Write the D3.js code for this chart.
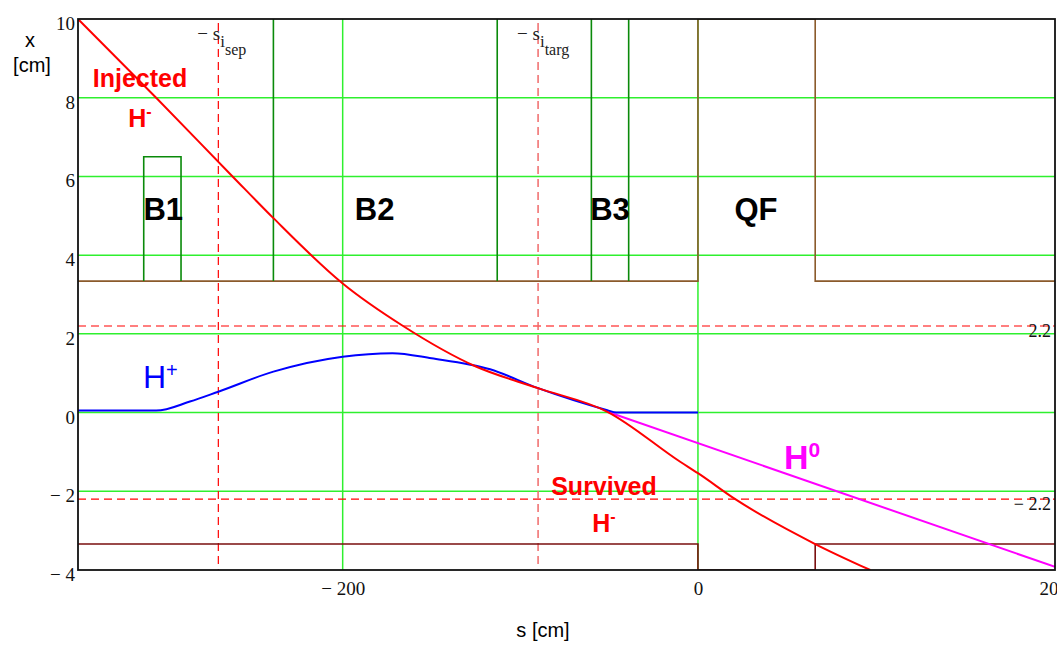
<!DOCTYPE html>
<html>
<head>
<meta charset="utf-8">
<script src="https://cdn.jsdelivr.net/npm/d3@7"></script>
<style>
  body { margin: 0; background: #fff; }
  svg { display: block; }
</style>
</head>
<body>
<script>
// axis ranges and ticks
const sDomain = [-349, 201]
const xDomain = [-4, 10]
const yTickValues = [-4, -2, 0, 2, 4, 6, 8, 10]
const sTickValues = [-200, 0, 200]
const gridX = [-2, 0, 2, 4, 6, 8]
const gridS = [-200, 0]
const limitLines = [2.2, -2.2]
const sSep = -270
const sTarg = -90

// trajectories, [s, x]
const injectedHminus = [[-349, 10], [-305, 8], [-262, 6], [-239, 4.94], [-200, 3.28], [-166, 2.2],
  [-125, 1.17], [-90, 0.62], [-51, 0.02], [-10, -1.25], [0, -1.54], [21, -2.2], [66, -3.34], [97, -4]]
const hPlus = [[-349, 0.05], [-305, 0.05], [-286, 0.28], [-270, 0.53], [-239, 1.04], [-200, 1.42],
  [-172, 1.51], [-150, 1.38], [-117, 1.1], [-90, 0.62], [-51, 0.06], [-46, 0], [0, 0]]
const hZero = [[-51, 0.02], [201, -3.92]]

// apertures and magnets
const upperAperture = [[-349, 3.34], [0, 3.34], [0, 10], [66, 10], [66, 3.34], [201, 3.34]]
const lowerAperture = [[-349, -3.34], [0, -3.34], [0, -4], [66, -4], [66, -3.34], [201, -3.34]]
const b1Box = [[-312, 3.34], [-312, 6.5], [-291, 6.5], [-291, 3.34]]
const magnetEdges = [-239, -113, -60, -39]
const magnetNames = [['B1', -301], ['B2', -182], ['B3', -49.5], ['QF', 32.7]]

const W = 1057, H = 646
const pLeft = 78, pRight = 1055, pTop = 19, pBottom = 570
const serif = '"Liberation Serif", "Times New Roman", serif'
const sans = '"Liberation Sans", Arial, sans-serif'

const x = d3.scaleLinear().domain(sDomain).range([pLeft, pRight])
const y = d3.scaleLinear().domain(xDomain).range([pBottom, pTop])

const svg = d3.select('body').append('svg')
  .attr('width', W)
  .attr('height', H)

svg.append('rect').attr('width', W).attr('height', H).attr('fill', '#fff')

svg.append('clipPath').attr('id', 'plot')
  .append('rect')
  .attr('x', pLeft).attr('y', pTop)
  .attr('width', pRight - pLeft).attr('height', pBottom - pTop)

const plot = svg.append('g').attr('clip-path', 'url(#plot)')

// green grid
plot.selectAll('.gy').data(gridX).enter().append('line')
  .attr('x1', pLeft).attr('x2', pRight)
  .attr('y1', d => y(d)).attr('y2', d => y(d))
  .attr('stroke', '#2ef02e').attr('stroke-width', 1.5)
plot.selectAll('.gs').data(gridS).enter().append('line')
  .attr('x1', d => x(d)).attr('x2', d => x(d))
  .attr('y1', pTop).attr('y2', pBottom)
  .attr('stroke', '#2ef02e').attr('stroke-width', 1.5)

// dashed limits
plot.selectAll('.lim').data(limitLines).enter().append('line')
  .attr('x1', pLeft).attr('x2', pRight)
  .attr('y1', d => y(d)).attr('y2', d => y(d))
  .attr('stroke', '#ff0000').attr('stroke-width', 1.2)
  .attr('stroke-dasharray', '8,5')
plot.append('line')
  .attr('x1', x(sSep)).attr('x2', x(sSep)).attr('y1', pTop + 4).attr('y2', pBottom)
  .attr('stroke', '#ff0000').attr('stroke-width', 1.2).attr('stroke-dasharray', '8,5')
plot.append('line')
  .attr('x1', x(sTarg)).attr('x2', x(sTarg)).attr('y1', pTop + 4).attr('y2', pBottom)
  .attr('stroke', '#f06a6a').attr('stroke-width', 1.5).attr('stroke-dasharray', '8,5')

const line = d3.line().x(d => x(d[0])).y(d => y(d[1]))

// apertures
plot.append('path').datum(upperAperture)
  .attr('d', line).attr('fill', 'none')
  .attr('stroke', '#8b5a2b').attr('stroke-width', 1.6)
plot.append('path').datum(lowerAperture)
  .attr('d', line).attr('fill', 'none')
  .attr('stroke', '#7a0f0f').attr('stroke-width', 1.6)

// magnets
plot.append('path').datum(b1Box)
  .attr('d', line).attr('fill', 'none')
  .attr('stroke', '#0a8a0a').attr('stroke-width', 1.6)
plot.selectAll('.edge').data(magnetEdges).enter().append('line')
  .attr('x1', d => x(d)).attr('x2', d => x(d))
  .attr('y1', y(3.34)).attr('y2', pTop)
  .attr('stroke', '#0a8a0a').attr('stroke-width', 1.6)

// trajectories
const smooth = d3.line().x(d => x(d[0])).y(d => y(d[1])).curve(d3.curveMonotoneX)
plot.append('path').datum(hZero)
  .attr('d', line).attr('fill', 'none')
  .attr('stroke', '#ff00ff').attr('stroke-width', 2)
plot.append('path').datum(hPlus)
  .attr('d', smooth).attr('fill', 'none')
  .attr('stroke', '#0000ff').attr('stroke-width', 2)
plot.append('path').datum(injectedHminus)
  .attr('d', smooth).attr('fill', 'none')
  .attr('stroke', '#ff0000').attr('stroke-width', 2)

// frame
svg.append('rect')
  .attr('x', pLeft).attr('y', pTop)
  .attr('width', pRight - pLeft).attr('height', pBottom - pTop)
  .attr('fill', 'none').attr('stroke', '#111').attr('stroke-width', 1.8)

// axes
const fmt = d => d < 0 ? '\u2212 ' + Math.abs(d) : String(d)

const yAxis = svg.append('g')
  .attr('transform', `translate(${pLeft},0)`)
  .call(d3.axisLeft(y).tickValues(yTickValues).tickSize(0).tickPadding(3).tickFormat(fmt))
yAxis.select('.domain').remove()
yAxis.selectAll('text')
  .attr('dy', '0.55em')
  .style('font-family', serif).style('font-size', '19px').attr('fill', '#111')

const xAxis = svg.append('g')
  .attr('transform', `translate(0,${pBottom})`)
  .call(d3.axisBottom(x).tickValues(sTickValues).tickSize(0).tickPadding(12).tickFormat(fmt))
xAxis.select('.domain').remove()
xAxis.selectAll('text')
  .style('font-family', serif).style('font-size', '19px').attr('fill', '#111')

// axis titles
svg.append('text').attr('x', 30).attr('y', 47).attr('text-anchor', 'middle')
  .style('font-family', sans).style('font-size', '20px').text('x')
svg.append('text').attr('x', 32).attr('y', 72).attr('text-anchor', 'middle')
  .style('font-family', sans).style('font-size', '20px').text('[cm]')
svg.append('text').attr('x', 543).attr('y', 637).attr('text-anchor', 'middle')
  .style('font-family', sans).style('font-size', '20px').text('s [cm]')

// limit labels
svg.append('text').attr('x', 1051).attr('y', y(2.2) + 11).attr('text-anchor', 'end')
  .style('font-family', serif).style('font-size', '18px').attr('fill', '#111').text('2.2')
svg.append('text').attr('x', 1051).attr('y', y(-2.2) + 11).attr('text-anchor', 'end')
  .style('font-family', serif).style('font-size', '18px').attr('fill', '#111').text('\u2212 2.2')

// s_i labels
function sLabel(s, sub) {
  const t = svg.append('text')
    .attr('x', x(s) - 21).attr('y', 40)
    .style('font-family', serif).style('font-size', '19px').attr('fill', '#222')
  t.append('tspan').text('\u2212 s')
  t.append('tspan').attr('dy', 7).style('font-size', '17px').text('i')
  t.append('tspan').attr('dy', 8).style('font-size', '16px').text(sub)
}
sLabel(sSep, 'sep')
sLabel(sTarg, 'targ')

// magnet names
svg.selectAll('.mag').data(magnetNames).enter().append('text')
  .attr('x', d => x(d[1])).attr('y', 220).attr('text-anchor', 'middle')
  .style('font-family', sans).style('font-size', '31px').style('font-weight', 'bold')
  .attr('fill', '#000').text(d => d[0])

// particle labels
function particle(px, py, base, sup, color, size, weight, anchor, supShift) {
  const t = svg.append('text').attr('x', px).attr('y', py)
    .attr('text-anchor', anchor)
    .style('font-family', sans).style('font-size', size + 'px').style('font-weight', weight)
    .attr('fill', color)
  t.append('tspan').text(base)
  t.append('tspan').attr('dy', -supShift).style('font-size', Math.round(size * 0.62) + 'px').text(sup)
}
svg.append('text').attr('x', 140).attr('y', 87).attr('text-anchor', 'middle')
  .style('font-family', sans).style('font-size', '25px').style('font-weight', 'bold')
  .attr('fill', '#ff0000').text('Injected')
particle(140, 127, 'H', '-', '#ff0000', 25, 'bold', 'middle', 10)
svg.append('text').attr('x', 604).attr('y', 495).attr('text-anchor', 'middle')
  .style('font-family', sans).style('font-size', '25px').style('font-weight', 'bold')
  .attr('fill', '#ff0000').text('Survived')
particle(604, 532, 'H', '-', '#ff0000', 25, 'bold', 'middle', 10)
particle(143, 388, 'H', '+', '#0000ff', 32, 'normal', 'start', 11)
particle(784, 469, 'H', '0', '#ff00ff', 34, 'bold', 'start', 12)
</script>
</body>
</html>
